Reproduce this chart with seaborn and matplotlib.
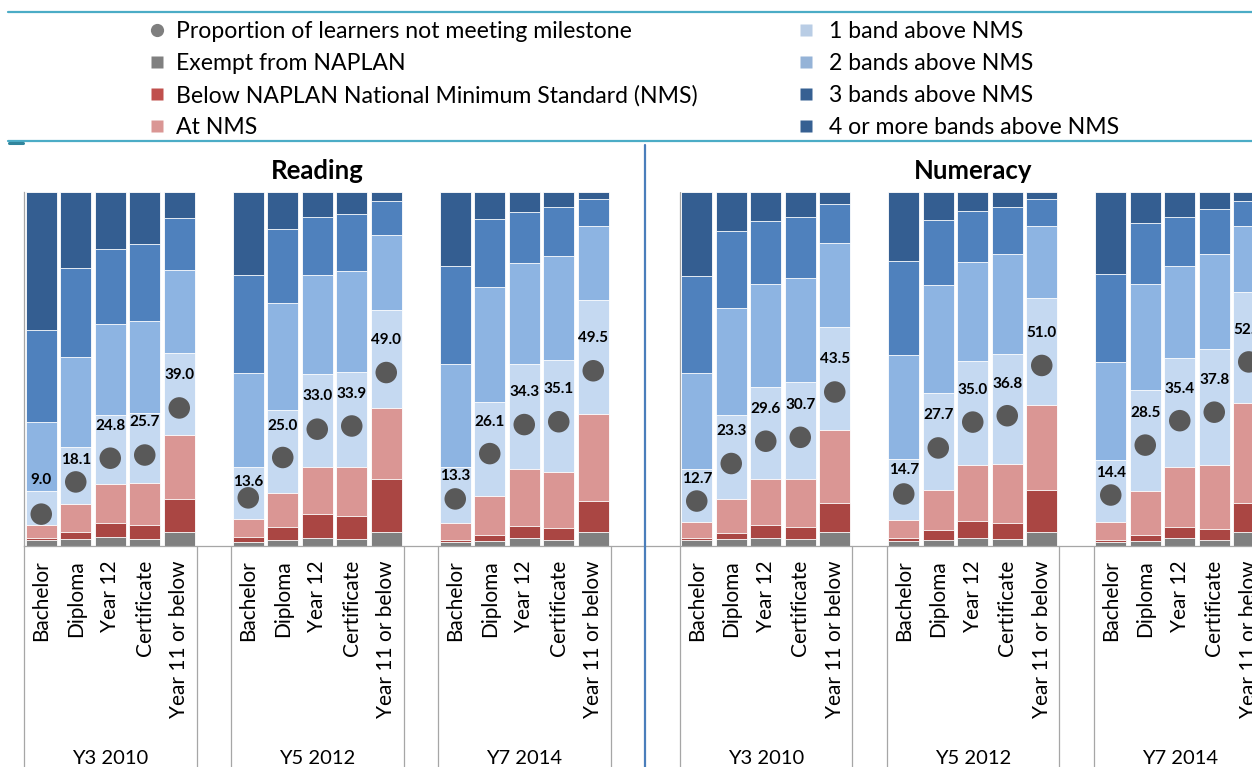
import matplotlib
matplotlib.use("Agg")
import numpy as np
import pandas as pd
import matplotlib.pyplot as plt
from matplotlib.lines import Line2D
from matplotlib.transforms import blended_transform_factory
import seaborn as sns

# ---------------------------------------------------------------- data
subjects = ["Reading", "Numeracy"]
cohorts = ["Y3 2010", "Y5 2012", "Y7 2014"]
qualifications = ["Bachelor", "Diploma", "Year 12", "Certificate", "Year 11 or below"]

layer_names = [
    "Exempt from NAPLAN",
    "Below NAPLAN National Minimum Standard (NMS)",
    "At NMS",
    "1 band above NMS",
    "2 bands above NMS",
    "3 bands above NMS",
    "4 or more bands above NMS",
]

# Percentages per bar: cohorts Y3, Y5, Y7, each with the five qualification groups
reading_exempt = [1.7, 2.0, 2.5, 2.0, 4.0, 1.2, 1.7, 2.4, 1.9, 4.0, 1.0, 1.5, 2.4, 1.8, 4.0]
reading_below = [0.7, 2.0, 3.9, 4.0, 9.2, 1.4, 3.7, 6.7, 6.6, 14.9, 0.8, 1.7, 3.3, 3.4, 8.8]
reading_at = [3.4, 7.8, 11.2, 11.8, 18.2, 5.0, 9.7, 13.3, 13.7, 20.1, 4.6, 11.0, 16.0, 15.8, 24.6]
reading_band1 = [9.8, 16.3, 19.4, 19.7, 23.1, 14.7, 23.3, 26.3, 27.0, 27.7, 16.0, 26.4, 29.8, 31.5, 32.0]
reading_band2 = [19.3, 25.3, 25.6, 26.2, 23.4, 26.5, 30.3, 27.8, 28.6, 21.1, 29.0, 32.6, 28.5, 29.3, 20.9]
reading_band3 = [26.0, 25.1, 21.2, 21.5, 14.7, 27.8, 20.8, 16.3, 15.9, 9.6, 27.7, 19.1, 14.3, 14.0, 7.6]
reading_band4 = [39.1, 21.5, 16.2, 14.8, 7.4, 23.4, 10.5, 7.2, 6.3, 2.6, 20.9, 7.7, 5.7, 4.2, 2.1]
reading_milestone = [9.0, 18.1, 24.8, 25.7, 39.0, 13.6, 25.0, 33.0, 33.9, 49.0, 13.3, 26.1, 34.3, 35.1, 49.5]

numeracy_exempt = [1.6, 1.9, 2.4, 2.0, 4.0, 1.4, 1.8, 2.4, 2.0, 4.0, 1.1, 1.5, 2.4, 1.6, 4.0]
numeracy_below = [0.8, 1.9, 3.6, 3.5, 8.2, 0.8, 2.6, 4.6, 4.6, 11.9, 0.7, 1.7, 3.0, 3.2, 8.2]
numeracy_at = [4.5, 9.6, 13.0, 13.5, 20.5, 5.2, 11.4, 15.8, 16.5, 24.0, 5.1, 12.4, 17.0, 18.2, 28.1]
numeracy_band1 = [14.8, 23.6, 26.0, 27.2, 29.1, 17.2, 27.3, 29.5, 31.0, 30.2, 17.4, 28.6, 30.7, 32.6, 31.5]
numeracy_band2 = [27.1, 30.3, 28.9, 29.5, 23.8, 29.3, 30.7, 28.0, 28.4, 20.2, 27.6, 29.7, 26.0, 27.0, 18.5]
numeracy_band3 = [27.4, 21.6, 17.8, 17.2, 11.0, 26.6, 18.2, 14.2, 13.3, 7.6, 24.9, 17.4, 13.8, 12.5, 7.1]
numeracy_band4 = [23.8, 11.1, 8.3, 7.1, 3.4, 19.5, 8.0, 5.5, 4.2, 2.1, 23.2, 8.7, 7.1, 4.9, 2.6]
numeracy_milestone = [12.7, 23.3, 29.6, 30.7, 43.5, 14.7, 27.7, 35.0, 36.8, 51.0, 14.4, 28.5, 35.4, 37.8, 52.0]

# How far (px) each value label sits above its dot
reading_label_lift = [34, 22, 32, 33, 33, 16, 32, 33, 32, 33, 23, 32, 33, 33, 33]
numeracy_label_lift = [22, 33, 32, 32, 33, 24, 33, 32, 32, 32, 22, 32, 32, 32, 32]

# ---------------------------------------------------------------- style
layer_colors = ["#808080", "#AA4643", "#DA9694", "#C5D9F1", "#8DB4E2", "#4F81BD", "#345E91"]
legend_square_colors = ["#808080", "#C0504D", "#DA9694", "#B9CDE5", "#95B3D7", "#366092", "#366092"]
dot_color = "#595959"
axis_grey = "#A6A6A6"

sns.set_theme(style="white")
plt.rcParams["font.family"] = ["Lato", "DejaVu Sans"]
label_family = ["Liberation Sans Narrow", "Lato", "DejaVu Sans"]

W, H, DPI = 1252, 767, 100
fig = plt.figure(figsize=(W / DPI, H / DPI), dpi=DPI)
fig.patch.set_facecolor("white")

SLOT = 34.5          # px per category slot
N_SLOTS = 37
AX_LEFT, AX_TOP, AX_BOTTOM = 24, 192, 546
ax_h = AX_BOTTOM - AX_TOP
ax = fig.add_axes([AX_LEFT / W, (H - AX_BOTTOM) / H, N_SLOTS * SLOT / W, ax_h / H])
ax.set_facecolor("white")

# slot offsets of each subject block (blank slot between cohorts)
subject_start = {"Reading": 0, "Numeracy": 19}

series = {
    "Reading": [reading_exempt, reading_below, reading_at, reading_band1,
                reading_band2, reading_band3, reading_band4],
    "Numeracy": [numeracy_exempt, numeracy_below, numeracy_at, numeracy_band1,
                 numeracy_band2, numeracy_band3, numeracy_band4],
}
milestones = {"Reading": reading_milestone, "Numeracy": numeracy_milestone}
lifts = {"Reading": reading_label_lift, "Numeracy": numeracy_label_lift}

rows = []
for subj in subjects:
    for g, coh in enumerate(cohorts):
        for i, q in enumerate(qualifications):
            k = g * 5 + i
            row = {
                "subject": subj, "cohort": coh, "qualification": q,
                "x": subject_start[subj] + 6 * g + i + 0.5,
                "milestone": milestones[subj][k],
                "lift": lifts[subj][k],
            }
            for j, name in enumerate(layer_names):
                row[name] = series[subj][j][k]
            rows.append(row)
df = pd.DataFrame(rows)

# cumulative tops for the stacked layers
cum = df[layer_names].cumsum(axis=1)
for j, name in enumerate(layer_names):
    df["top_" + str(j)] = cum[name]

# stacked bars: draw tallest cumulative layer first, then cover with lower ones
for j in range(len(layer_names) - 1, -1, -1):
    sns.barplot(data=df, x="x", y="top_" + str(j), native_scale=True, width=0.91,
                color=layer_colors[j], saturation=1, errorbar=None,
                edgecolor="white", linewidth=0.6, ax=ax, zorder=2)

sns.scatterplot(data=df, x="x", y="milestone", color=dot_color, s=240,
                edgecolor="none", ax=ax, zorder=5, legend=False)

for _, r in df.iterrows():
    ax.annotate(f"{r['milestone']:.1f}", (r["x"], r["milestone"]),
                xytext=(0, r["lift"] * 0.72), textcoords="offset points",
                ha="center", va="center", fontsize=11, fontweight="bold",
                family=label_family, color="black", zorder=6)

ax.set_xlim(0, N_SLOTS)
ax.set_ylim(0, 100)
ax.set_xticks([])
ax.set_yticks([])
ax.set_xlabel("")
ax.set_ylabel("")
for side in ["top", "right"]:
    ax.spines[side].set_visible(False)
for side in ["left", "bottom"]:
    ax.spines[side].set_color(axis_grey)
    ax.spines[side].set_linewidth(0.9)
ax.axvline(subject_start["Numeracy"], color=axis_grey, lw=0.9, zorder=1)

trans = blended_transform_factory(ax.transData, ax.transAxes)
px = 1.0 / ax_h

# category separators on the multi-level axis
for subj in subjects:
    s0 = subject_start[subj]
    for g in range(3):
        for edge in (s0 + 6 * g, s0 + 6 * g + 5):
            ax.plot([edge, edge], [0, -0.75], transform=trans, color=axis_grey,
                    lw=0.9, clip_on=False)

# qualification and cohort labels
for _, r in df.iterrows():
    ax.text(r["x"], -14 * px, r["qualification"], rotation=90, ha="center",
            va="top", fontsize=15, color="black", transform=trans)
for subj in subjects:
    s0 = subject_start[subj]
    for g, coh in enumerate(cohorts):
        ax.text(s0 + 6 * g + 2.5, -(758 - AX_BOTTOM) * px, coh, ha="center",
                va="center", fontsize=14.5, color="black", transform=trans)
    ax.text(s0 + 8.5, 1 + (AX_TOP - 171) * px, subj, ha="center", va="center",
            fontsize=18.5, fontweight="bold", color="black", transform=trans)

# ---------------------------------------------------------------- frame lines
def fx(x):
    return x / W


def fy(y):
    return (H - y) / H


fig.add_artist(Line2D([fx(8), 1], [fy(12), fy(12)], color="#4BACC6", lw=1.6))
fig.add_artist(Line2D([fx(8), 1], [fy(141), fy(141)], color="#4BACC6", lw=1.6))
fig.add_artist(Line2D([fx(9), fx(23)], [fy(142.5), fy(142.5)], color="#31859C", lw=2.2))
fig.add_artist(Line2D([fx(645), fx(645)], [0, fy(145)], color="#4A7EBB", lw=1.6))

# ---------------------------------------------------------------- legend
legend_rows_y = [30, 62, 94, 126]
col1 = [("o", "#7F7F7F", "Proportion of learners not meeting milestone")] + [
    ("s", legend_square_colors[j], layer_names[j]) for j in range(3)]
col2 = [("s", legend_square_colors[j], layer_names[j]) for j in range(3, 7)]

for (mx, tx), entries in (((157, 176), col1), ((806, 829), col2)):
    for y, (marker, color, label) in zip(legend_rows_y, entries):
        fig.add_artist(Line2D([fx(mx)], [fy(y)], marker=marker,
                              markersize=9.5 if marker == "o" else 8.5,
                              color=color, markeredgecolor="none", linestyle="none"))
        fig.text(fx(tx), fy(y + 2), label, ha="left", va="center", fontsize=16.6,
                 color="black")

fig.savefig("out.png", dpi=DPI, facecolor="white")
